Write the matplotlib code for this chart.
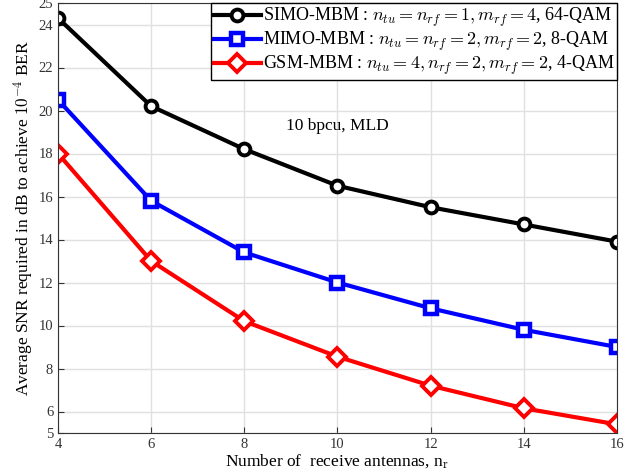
import matplotlib
matplotlib.use("Agg")
import matplotlib.pyplot as plt

nr = [4, 6, 8, 10, 12, 14, 16]
simo = [24.3, 20.2, 18.2, 16.5, 15.5, 14.7, 13.9]
mimo = [20.5, 15.8, 13.4, 12.0, 10.8, 9.8, 9.0]
gsm = [18.0, 13.0, 10.2, 8.55, 7.2, 6.15, 5.4]
labels = [
    r"SIMO-MBM : $n_{tu}=n_{rf}=1, m_{rf}=4$, 64-QAM",
    r"MIMO-MBM : $n_{tu}=n_{rf}=2, m_{rf}=2$, 8-QAM",
    r"GSM-MBM : $n_{tu}=4, n_{rf}=2, m_{rf}=2$, 4-QAM",
]
yticks = [5, 6, 8, 10, 12, 14, 16, 18, 20, 22, 24, 25]
xticks = [4, 6, 8, 10, 12, 14, 16]

plt.rcParams['font.family'] = ['Liberation Serif', 'DejaVu Serif']
plt.rcParams['mathtext.fontset'] = 'cm'

fig = plt.figure(figsize=(6.38, 4.75), dpi=100)
ax = fig.add_axes([58/638, 1 - 433/475, 559/638, 430/475])

ax.plot(nr, simo, color='black', lw=3, marker='o', ms=8.5, mfc='white', mew=2.8, label=labels[0])
ax.plot(nr, mimo, color='blue', lw=3, marker='s', ms=8, mfc='white', mew=3.2, label=labels[1])
ax.plot(nr, gsm, color='red', lw=3, marker='D', ms=9, mfc='white', mew=2.8, label=labels[2])

ax.set_xlim(4, 16)
ax.set_ylim(5, 25)
ax.set_xticks(xticks)
ax.set_yticks(yticks)
ax.grid(True, color='#e0e0e0', lw=1)
ax.set_axisbelow(True)
ax.tick_params(direction='in', labelsize=10.5, colors='#333333', length=4)
for s in ax.spines.values():
    s.set_color('#333333')

ax.set_xlabel(r"Number of  receive antennas, n$_\mathrm{r}$", fontsize=12.5, labelpad=1)
ax.set_ylabel(r"Average SNR required in dB to achieve $10^{-4}$ BER", fontsize=12.5, labelpad=2)

ax.text(10, 19.3, "10 bpcu, MLD", fontsize=12.5, ha='center', va='center')

leg = ax.legend(loc='upper right', fontsize=13, fancybox=False, framealpha=1,
                edgecolor='black', borderpad=0.15, labelspacing=0.05,
                handlelength=2.6, handletextpad=0.1, borderaxespad=0.0)
leg.get_frame().set_linewidth(1)

fig.savefig("out.png", dpi=100)
